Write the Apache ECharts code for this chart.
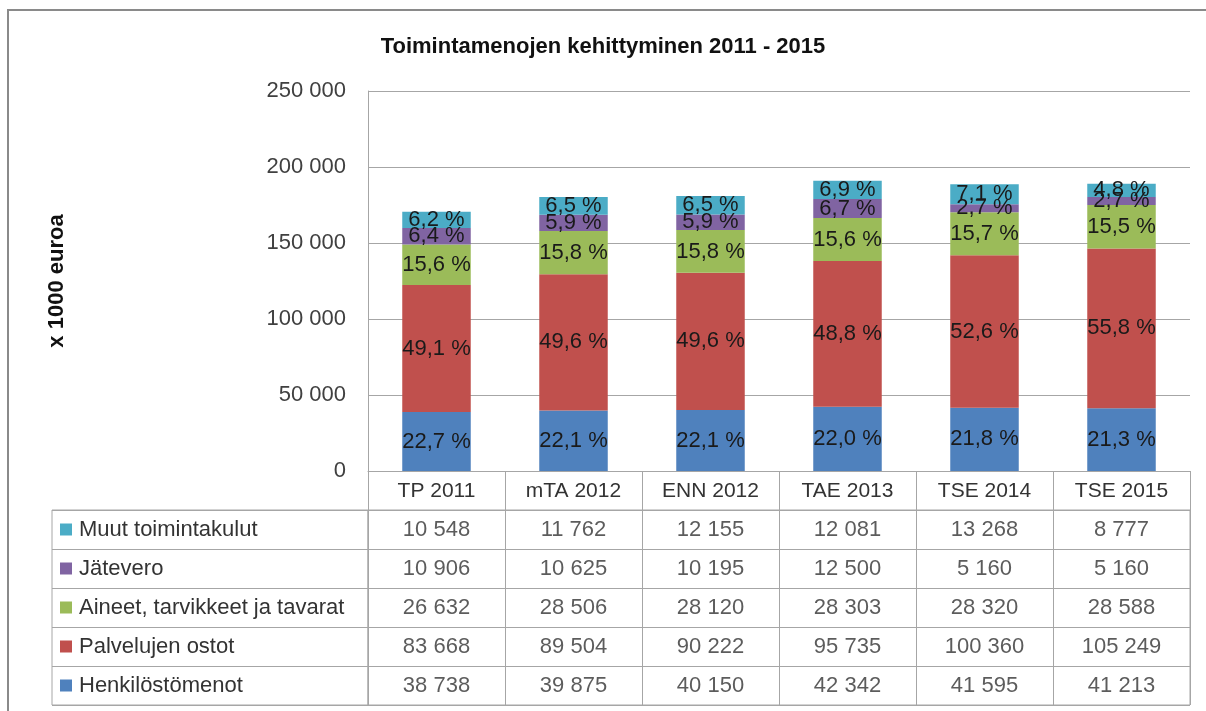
<!DOCTYPE html>
<html>
<head>
<meta charset="utf-8">
<script src="https://cdn.jsdelivr.net/npm/echarts@6/dist/echarts.min.js"></script>
<style>
html, body { margin: 0; padding: 0; background: #fff; }
#chart { width: 1206px; height: 711px; }
</style>
</head>
<body>
<div id="chart"></div>
<script>
// categories and series (x 1000 euroa)
const categories = ['TP 2011', 'mTA 2012', 'ENN 2012', 'TAE 2013', 'TSE 2014', 'TSE 2015'];
const seriesNames = ['Henkilöstömenot', 'Palvelujen ostot', 'Aineet, tarvikkeet ja tavarat', 'Jätevero', 'Muut toimintakulut'];
const henkilosto = [38738, 39875, 40150, 42342, 41595, 41213];
const palvelut = [83668, 89504, 90222, 95735, 100360, 105249];
const aineet = [26632, 28506, 28120, 28303, 28320, 28588];
const jatevero = [10906, 10625, 10195, 12500, 5160, 5160];
const muut = [10548, 11762, 12155, 12081, 13268, 8777];
// percentage labels shown on the bars
const pctHenkilosto = ['22,7 %', '22,1 %', '22,1 %', '22,0 %', '21,8 %', '21,3 %'];
const pctPalvelut = ['49,1 %', '49,6 %', '49,6 %', '48,8 %', '52,6 %', '55,8 %'];
const pctAineet = ['15,6 %', '15,8 %', '15,8 %', '15,6 %', '15,7 %', '15,5 %'];
const pctJatevero = ['6,4 %', '5,9 %', '5,9 %', '6,7 %', '2,7 %', '2,7 %'];
const pctMuut = ['6,2 %', '6,5 %', '6,5 %', '6,9 %', '7,1 %', '4,8 %'];
const yTicks = [0, 50000, 100000, 150000, 200000, 250000];

const colors = ['#4F81BD', '#C0504D', '#9BBB59', '#8064A2', '#4BACC6'];
const values = [henkilosto, palvelut, aineet, jatevero, muut];
const pcts = [pctHenkilosto, pctPalvelut, pctAineet, pctJatevero, pctMuut];
// table rows, top to bottom
const rowOrder = [4, 3, 2, 1, 0];
const font = 'Liberation Sans';
const lineGray = '#a6a6a6';

function fmt(v) {
	return String(v).replace(/\B(?=(\d{3})+(?!\d))/g, ' ');
}

const chart = echarts.init(document.getElementById('chart'));

const barSeries = values.map((vals, i) => ({
	name: seriesNames[i],
	type: 'bar',
	stack: 'total',
	barCategoryGap: '50%',
	xAxisIndex: 0,
	yAxisIndex: 0,
	itemStyle: { color: colors[i] },
	label: {
		show: true,
		position: 'inside',
		fontFamily: font,
		fontSize: 22,
		color: '#1a1a1a',
		formatter: p => pcts[i][p.dataIndex]
	},
	data: vals
}));

const cellData = [];
rowOrder.forEach((s, r) => {
	values[s].forEach((v, c) => cellData.push([c, r, v]));
});

const rich = {};
colors.forEach((c, i) => {
	rich['sq' + i] = { width: 12, height: 12, backgroundColor: c };
});
rich.t = { fontFamily: font, fontSize: 22, color: '#333', padding: [0, 0, 0, 7] };

const option = {
	animation: false,
	textStyle: { fontFamily: font },
	title: {
		text: 'Toimintamenojen kehittyminen 2011 - 2015',
		left: 'center',
		top: 31,
		textStyle: { fontFamily: font, fontSize: 22, fontWeight: 'bold', color: '#111' }
	},
	graphic: [{
		type: 'rect',
		shape: { x: 8, y: 10, width: 1300, height: 800 },
		style: { fill: 'none', stroke: '#8a8a8a', lineWidth: 2 },
		silent: true
	}],
	grid: [
		{ left: 368, right: 16, top: 91, bottom: 240 },
		{ left: 368, right: 16, top: 510, bottom: 6, show: true, borderColor: lineGray, borderWidth: 1 },
		{ left: 52, width: 316, top: 510, bottom: 6, show: true, borderColor: lineGray, borderWidth: 1 }
	],
	xAxis: [
		{
			type: 'category',
			gridIndex: 0,
			data: categories,
			axisLine: { lineStyle: { color: lineGray } },
			axisTick: { show: true, interval: 0, length: 39, lineStyle: { color: lineGray } },
			axisLabel: { interval: 0, margin: 20, verticalAlign: 'middle', fontFamily: font, fontSize: 21, color: '#333' }
		},
		{
			type: 'category',
			gridIndex: 1,
			data: categories,
			axisLine: { show: false },
			axisTick: { show: false },
			axisLabel: { show: false },
			splitLine: { show: true, interval: 0, lineStyle: { color: lineGray } }
		},
		{
			type: 'value',
			gridIndex: 2,
			show: false
		}
	],
	yAxis: [
		{
			type: 'value',
			gridIndex: 0,
			min: yTicks[0],
			max: yTicks[yTicks.length - 1],
			interval: yTicks[1] - yTicks[0],
			name: 'x 1000 euroa',
			nameLocation: 'middle',
			nameRotate: 90,
			nameGap: 300,
			nameTextStyle: { fontFamily: font, fontSize: 22, fontWeight: 'bold', color: '#111' },
			axisLine: { show: true, lineStyle: { color: lineGray } },
			axisTick: { show: false },
			axisLabel: { margin: 22, fontFamily: font, fontSize: 22, color: '#404040', formatter: fmt },
			splitLine: { show: true, lineStyle: { color: lineGray } }
		},
		{
			type: 'category',
			gridIndex: 1,
			inverse: true,
			data: rowOrder.map(s => seriesNames[s]),
			axisLine: { show: false },
			axisTick: { show: false },
			axisLabel: { show: false },
			splitLine: { show: true, interval: 0, lineStyle: { color: lineGray } }
		},
		{
			type: 'category',
			gridIndex: 2,
			inverse: true,
			data: rowOrder.map(s => seriesNames[s]),
			axisLine: { show: false },
			axisTick: { show: false },
			axisLabel: {
				inside: true,
				margin: 8,
				interval: 0,
				formatter: (v, idx) => '{sq' + rowOrder[idx] + '|}{t|' + v + '}',
				rich: rich
			},
			splitLine: { show: true, interval: 0, lineStyle: { color: lineGray } }
		}
	],
	series: barSeries.concat([{
		type: 'scatter',
		xAxisIndex: 1,
		yAxisIndex: 1,
		symbolSize: 0,
		label: {
			show: true,
			position: 'inside',
			fontFamily: font,
			fontSize: 22,
			color: '#333',
			formatter: p => fmt(p.value[2])
		},
		data: cellData
	}])
};

chart.setOption(option);
</script>
</body>
</html>
